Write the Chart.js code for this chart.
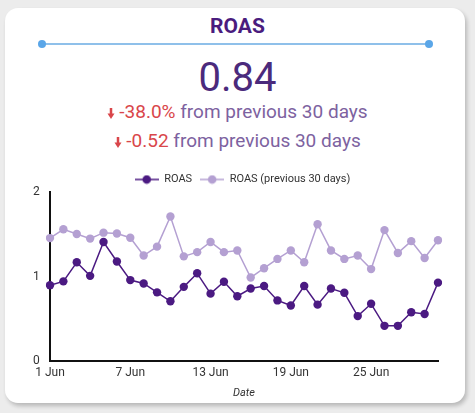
<!DOCTYPE html>
<html><head><meta charset="utf-8">
<script src="https://cdn.jsdelivr.net/npm/chart.js@4.4.0/dist/chart.umd.min.js"></script>
<style>
html,body{margin:0;padding:0;background:#ececec;width:475px;height:413px;overflow:hidden;font-family:Roboto,"Noto Sans",sans-serif;}
#card{position:absolute;left:5px;top:8px;width:460px;height:395px;background:#fff;border-radius:13px;box-shadow:2px 3px 4px rgba(0,0,0,0.22);}
#title{position:absolute;left:0;width:475px;top:14px;text-align:center;font-weight:700;font-size:21px;color:#4a1c7e;}
#rule{position:absolute;left:42px;top:43px;width:387px;height:2px;background:#8fc0ea;}
.dot{position:absolute;top:40px;width:8px;height:8px;border-radius:50%;background:#5aa6e8;}
#big{position:absolute;left:0;width:475px;top:54px;text-align:center;font-size:40px;color:#4b2a7c;}
.delta{position:absolute;left:0;width:475px;text-align:center;font-size:19px;color:#7d62a0;}
.red{color:#d9464a;}
#wrap{position:absolute;left:0px;top:166px;width:475px;height:234px;}
</style></head><body>
<div id="card"></div>
<div id="title">ROAS</div>
<div id="rule"></div>
<div class="dot" style="left:38px"></div>
<div class="dot" style="left:425px"></div>
<div id="big">0.84</div>
<div class="delta" style="top:100px"><svg width="8" height="11" viewBox="0 0 8 11" style="vertical-align:-1px;margin-right:4px"><rect x="2.75" y="0" width="2.5" height="6" fill="#d9464a"/><path d="M0.5 5.5 L7.5 5.5 L4 11 Z" fill="#d9464a"/></svg><span class="red">-38.0%</span> from previous 30 days</div>
<div class="delta" style="top:129px"><svg width="8" height="11" viewBox="0 0 8 11" style="vertical-align:-1px;margin-right:4px"><rect x="2.75" y="0" width="2.5" height="6" fill="#d9464a"/><path d="M0.5 5.5 L7.5 5.5 L4 11 Z" fill="#d9464a"/></svg><span class="red">-0.52</span> from previous 30 days</div>
<div id="wrap"><canvas id="c"></canvas></div>
<script>
const labels = ["1 Jun","2 Jun","3 Jun","4 Jun","5 Jun","6 Jun","7 Jun","8 Jun","9 Jun","10 Jun","11 Jun","12 Jun","13 Jun","14 Jun","15 Jun","16 Jun","17 Jun","18 Jun","19 Jun","20 Jun","21 Jun","22 Jun","23 Jun","24 Jun","25 Jun","26 Jun","27 Jun","28 Jun","29 Jun","30 Jun"];
const roas = [0.90,0.945,1.17,1.01,1.41,1.18,0.96,0.92,0.815,0.71,0.88,1.04,0.80,0.94,0.77,0.86,0.89,0.72,0.66,0.89,0.67,0.86,0.81,0.535,0.68,0.42,0.42,0.58,0.56,0.93];
const roasPrev = [1.456,1.56,1.505,1.45,1.52,1.51,1.46,1.25,1.355,1.71,1.24,1.29,1.41,1.29,1.31,0.99,1.10,1.21,1.31,1.17,1.62,1.31,1.21,1.25,1.09,1.55,1.28,1.42,1.22,1.43];
const seriesNames = ["ROAS","ROAS (previous 30 days)"];
const yTicks = [0,1,2];
const colors = ["#4b1a82","#b4a0d2"];

function legendIcon(color){
  const cv=document.createElement('canvas');
  cv.width=24;cv.height=10;
  const x=cv.getContext('2d');
  x.strokeStyle=color;x.lineWidth=1.5;
  x.beginPath();x.moveTo(0,5);x.lineTo(24,5);x.stroke();
  x.fillStyle=color;x.beginPath();x.arc(12,5,4.3,0,Math.PI*2);x.fill();
  return cv;
}
const icons = colors.map(legendIcon);

new Chart(document.getElementById('c'),{
  type:'line',
  data:{labels:labels,datasets:[
    {label:seriesNames[0],data:roas,borderColor:colors[0],backgroundColor:colors[0],pointBackgroundColor:colors[0],pointBorderWidth:0,pointRadius:4.2,borderWidth:1.5,tension:0},
    {label:seriesNames[1],data:roasPrev,borderColor:colors[1],backgroundColor:colors[1],pointBackgroundColor:colors[1],pointBorderWidth:0,pointRadius:4.2,borderWidth:1.5,tension:0}
  ]},
  options:{
    responsive:true,maintainAspectRatio:false,animation:false,
    layout:{padding:{left:47,right:37,top:0,bottom:0}},
    plugins:{
      tooltip:{enabled:false},
      legend:{position:'top',maxHeight:26,labels:{usePointStyle:true,pointStyleWidth:24,boxHeight:10,padding:8,color:'#333',font:{family:'Roboto',size:11},
        generateLabels:(chart)=>chart.data.datasets.map((d,i)=>({text:d.label,pointStyle:icons[i],fillStyle:colors[i],strokeStyle:colors[i],lineWidth:0,datasetIndex:i,hidden:false,fontColor:'#333'}))}}
    },
    scales:{
      x:{grid:{display:false,drawTicks:false},border:{display:true,color:'#111',width:2},
        ticks:{autoSkip:false,maxRotation:0,padding:4,color:'#333',font:{family:'Roboto',size:12},callback:(v,i)=>i%6===0?labels[i]:''},
        title:{display:true,text:'Date',color:'#333',font:{family:'Roboto',size:11,style:'italic'},padding:{top:3,bottom:0}}},
      y:{min:0,max:2,grid:{display:false,drawTicks:false},border:{display:true,color:'#111',width:2},
        afterBuildTicks:(s)=>{s.ticks=yTicks.map(v=>({value:v}));},
        afterFit:(s)=>{s.width=3;},
        ticks:{mirror:true,padding:-17,color:'#333',font:{family:'Roboto',size:12}}}
    }
  }
});
</script>
</body></html>
